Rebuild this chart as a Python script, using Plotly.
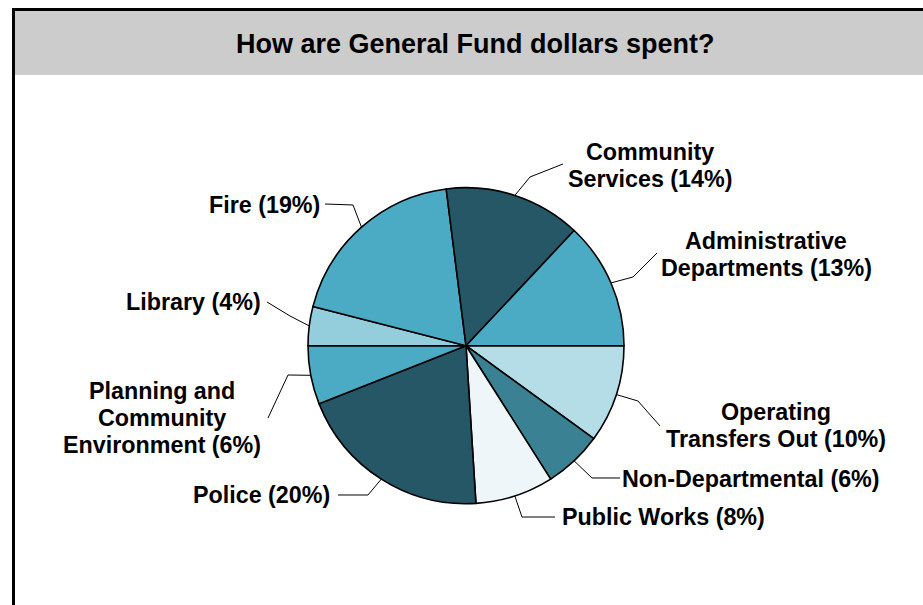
import math
import plotly.graph_objects as go

# ---- data -------------------------------------------------------------
categories = [
    "Operating Transfers Out",
    "Non-Departmental",
    "Public Works",
    "Police",
    "Planning and Community Environment",
    "Library",
    "Fire",
    "Community Services",
    "Administrative Departments",
]
values = [10, 6, 8, 20, 6, 4, 19, 14, 13]
# label text, one entry per line; the percentage is appended to the last line
label_lines = [
    ["Operating", "Transfers Out"],
    ["Non-Departmental"],
    ["Public Works"],
    ["Police"],
    ["Planning and", "Community", "Environment"],
    ["Library"],
    ["Fire"],
    ["Community", "Services"],
    ["Administrative", "Departments"],
]
title_text = "How are General Fund dollars spent?"

# ---- styling ----------------------------------------------------------
W, H = 923, 605
FONT = "Liberation Sans, Arial, Helvetica, sans-serif"
colors = ["#B5DDE8", "#3A8194", "#EEF6F9", "#255766", "#4BABC5",
          "#94CDDC", "#4BABC5", "#255766", "#4BABC5"]

cx, cy, r = 466.0, 345.7, 158.0          # pie centre / radius in pixels
label_size = 23.3
line_gap = 27

# per label: centre x, y of first line, leader elbow, leader end (pixels)
label_layout = [
    dict(x=776, y=412, elbow=(638, 401), end=(660, 426)),
    dict(x=751, y=479, elbow=(592, 478), end=(620, 478)),
    dict(x=663, y=517, elbow=(522, 517), end=(555, 517)),
    dict(x=261, y=495, elbow=(368, 495), end=(338, 495)),
    dict(x=162, y=391, elbow=(288, 375), end=(268, 418)),
    dict(x=193, y=302, elbow=(290, 316), end=(267, 302)),
    dict(x=264, y=205, elbow=(353, 205), end=(325, 204)),
    dict(x=650, y=152, elbow=(530, 177), end=(563, 164)),
    dict(x=766, y=241, elbow=(633, 277), end=(657, 253)),
]


def px(x):
    """pixel x -> paper fraction"""
    return x / W


def py(y):
    """pixel y (from top) -> paper fraction"""
    return 1 - y / H


fig = go.Figure()

fig.add_trace(go.Pie(
    labels=categories,
    values=values,
    sort=False,
    direction="clockwise",
    rotation=90,
    textinfo="none",
    hoverinfo="label+percent",
    showlegend=False,
    marker=dict(colors=colors, line=dict(color="#000000", width=1.6)),
    domain=dict(x=[px(cx - r), px(cx + r)], y=[py(cy + r), py(cy - r)]),
))

shapes = [
    # grey title bar and black frame
    dict(type="rect", xref="paper", yref="paper",
         x0=px(15), x1=px(W + 2), y0=py(75), y1=py(11),
         line_width=0, fillcolor="#CCCCCC", layer="below"),
    dict(type="rect", xref="paper", yref="paper",
         x0=px(12), x1=px(15), y0=py(H + 2), y1=py(8),
         line_width=0, fillcolor="#000000"),
    dict(type="rect", xref="paper", yref="paper",
         x0=px(12), x1=px(W + 2), y0=py(11), y1=py(8),
         line_width=0, fillcolor="#000000"),
]

annotations = [
    dict(x=px(475), y=py(44), xref="paper", yref="paper",
         text=title_text, showarrow=False,
         xanchor="center", yanchor="middle",
         font=dict(family=FONT, size=27, color="#000000", weight="bold")),
]

# leader lines start on the rim at each slice's mid-angle
total = sum(values)
start_angle = 0.0                       # degrees, counter-clockwise from east
for i, v in enumerate(values):
    sweep = 360.0 * v / total
    mid = math.radians(start_angle - sweep / 2)
    start_angle -= sweep
    sx, sy = cx + r * math.cos(mid), cy - r * math.sin(mid)
    lay = label_layout[i]
    ex, ey = lay["elbow"]
    tx, ty = lay["end"]
    shapes.append(dict(
        type="path", xref="paper", yref="paper",
        path=(f"M {px(sx):.5f},{py(sy):.5f} "
              f"L {px(ex):.5f},{py(ey):.5f} L {px(tx):.5f},{py(ty):.5f}"),
        line=dict(color="#000000", width=1)))

    lines = list(label_lines[i])
    lines[-1] = f"{lines[-1]} ({v}%)"
    for k, txt in enumerate(lines):
        annotations.append(dict(
            x=px(lay["x"]), y=py(lay["y"] + k * line_gap),
            xref="paper", yref="paper",
            text=txt, showarrow=False,
            xanchor="center", yanchor="middle",
            font=dict(family=FONT, size=label_size, color="#000000",
                      weight="bold")))

fig.update_layout(
    width=W, height=H,
    margin=dict(l=0, r=0, t=0, b=0),
    paper_bgcolor="#FFFFFF",
    plot_bgcolor="rgba(0,0,0,0)",
    shapes=shapes,
    annotations=annotations,
)

fig.write_html("out.html")
